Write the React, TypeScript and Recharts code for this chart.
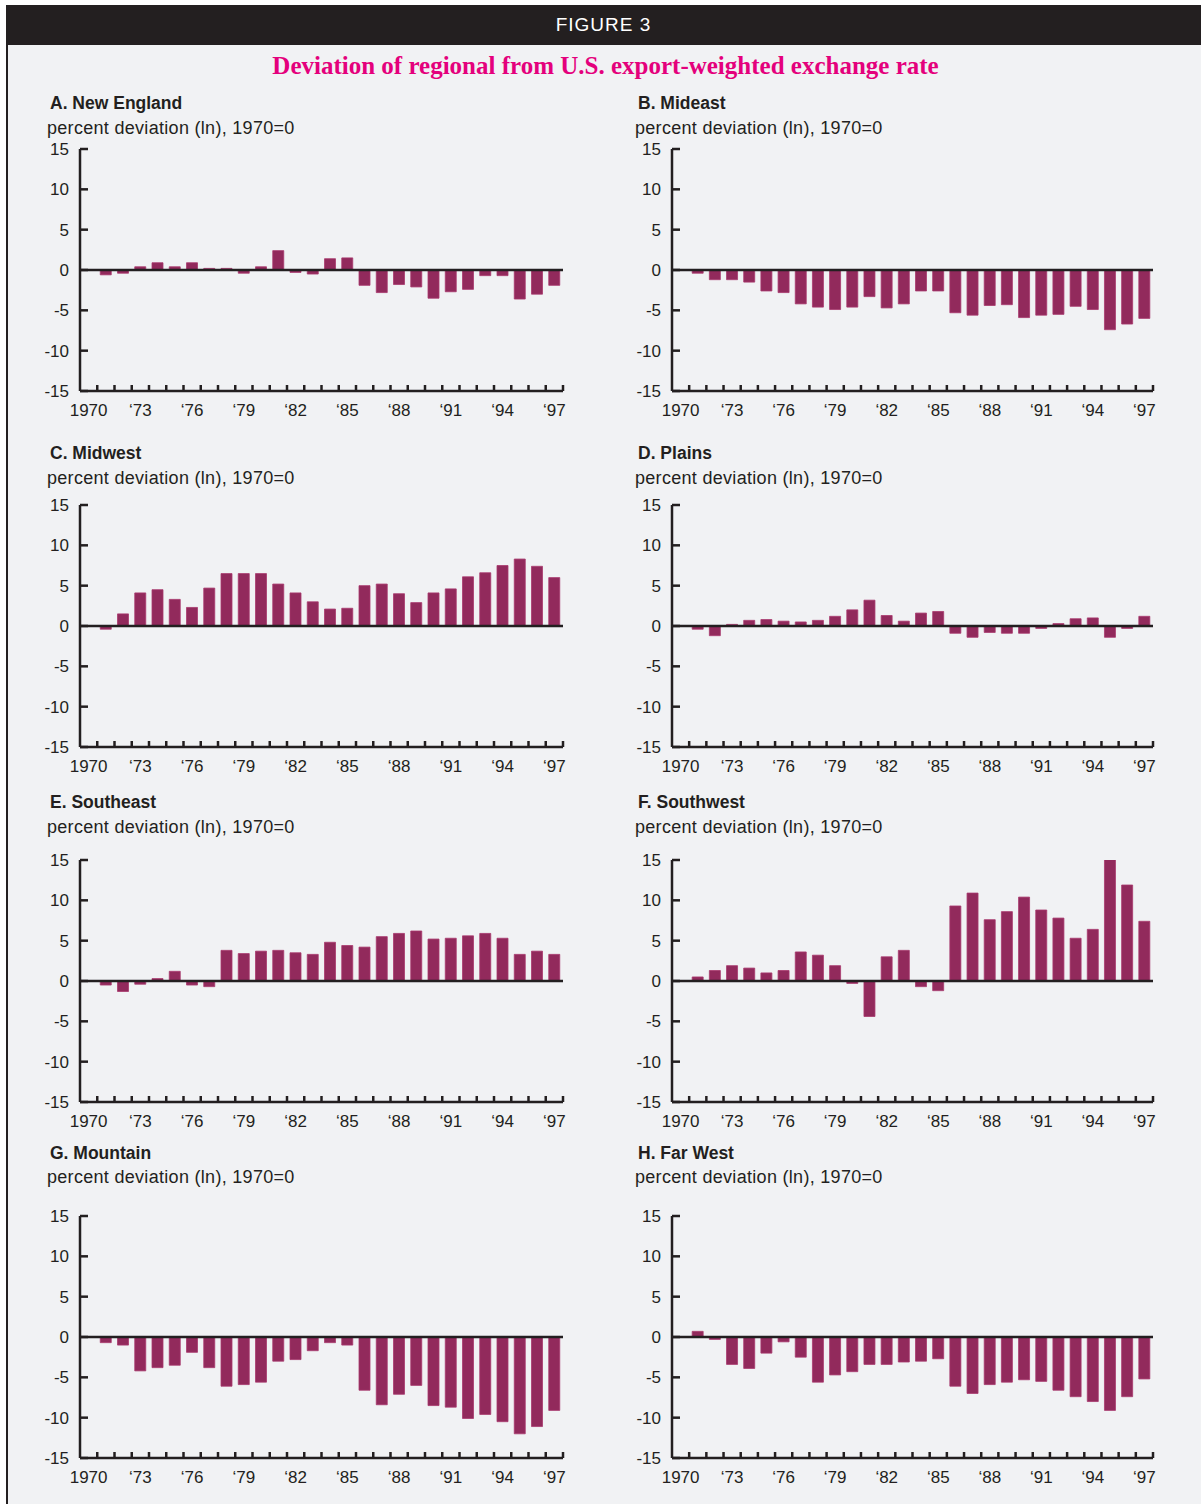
import React from 'react'
import { BarChart, Bar, XAxis, YAxis, ReferenceLine } from 'recharts'

// years 1970..1997, 1970 = 0 by construction
const years = [
  1970, 1971, 1972, 1973, 1974, 1975, 1976, 1977, 1978, 1979,
  1980, 1981, 1982, 1983, 1984, 1985, 1986, 1987, 1988, 1989,
  1990, 1991, 1992, 1993, 1994, 1995, 1996, 1997
]
const labelledYears = [1970, 1973, 1976, 1979, 1982, 1985, 1988, 1991, 1994, 1997]
const yearTickLabels = ['1970', '\u201873', '\u201876', '\u201879', '\u201882', '\u201885', '\u201888', '\u201891', '\u201894', '\u201897']
const valueTicks = [-15, -10, -5, 0, 5, 10, 15]

const newEngland = [0, -0.6, -0.4, 0.4, 0.9, 0.4, 0.9, 0.2, 0.2, -0.4, 0.4, 2.4, -0.3, -0.5, 1.4, 1.5, -1.9, -2.8, -1.8, -2.1, -3.5, -2.7, -2.4, -0.7, -0.7, -3.6, -3.0, -1.9]
const mideast = [0, -0.4, -1.2, -1.2, -1.5, -2.6, -2.8, -4.2, -4.6, -4.9, -4.6, -3.3, -4.7, -4.2, -2.6, -2.6, -5.3, -5.6, -4.4, -4.3, -5.9, -5.6, -5.5, -4.5, -4.9, -7.4, -6.7, -6.0]
const midwest = [0, -0.4, 1.5, 4.1, 4.5, 3.3, 2.3, 4.7, 6.5, 6.5, 6.5, 5.2, 4.1, 3.0, 2.1, 2.2, 5.0, 5.2, 4.0, 2.9, 4.1, 4.6, 6.1, 6.6, 7.5, 8.3, 7.4, 6.0]
const plains = [0, -0.4, -1.2, 0.2, 0.7, 0.8, 0.6, 0.5, 0.7, 1.2, 2.0, 3.2, 1.3, 0.6, 1.6, 1.8, -0.9, -1.4, -0.8, -0.9, -0.9, -0.3, 0.3, 0.9, 1.0, -1.4, -0.3, 1.2]
const southeast = [0, -0.5, -1.3, -0.4, 0.3, 1.2, -0.5, -0.7, 3.8, 3.4, 3.7, 3.8, 3.5, 3.3, 4.8, 4.4, 4.2, 5.5, 5.9, 6.2, 5.2, 5.3, 5.6, 5.9, 5.3, 3.3, 3.7, 3.3]
const southwest = [0, 0.5, 1.3, 1.9, 1.6, 1.0, 1.3, 3.6, 3.2, 1.9, -0.3, -4.4, 3.0, 3.8, -0.7, -1.2, 9.3, 10.9, 7.6, 8.6, 10.4, 8.8, 7.8, 5.3, 6.4, 15.7, 11.9, 7.4]
const mountain = [0, -0.7, -1.0, -4.2, -3.8, -3.5, -1.9, -3.8, -6.1, -5.9, -5.6, -3.0, -2.8, -1.7, -0.7, -1.0, -6.6, -8.4, -7.1, -6.0, -8.5, -8.7, -10.1, -9.6, -10.5, -12.0, -11.1, -9.1]
const farWest = [0, 0.7, -0.3, -3.4, -3.9, -2.0, -0.6, -2.5, -5.6, -4.7, -4.3, -3.4, -3.4, -3.1, -3.0, -2.7, -6.1, -7.0, -5.9, -5.6, -5.3, -5.5, -6.6, -7.4, -8.0, -9.1, -7.4, -5.2]

const regionTitles = [
  'A. New England', 'B. Mideast', 'C. Midwest', 'D. Plains',
  'E. Southeast', 'F. Southwest', 'G. Mountain', 'H. Far West'
]
const regionValues = [newEngland, mideast, midwest, plains, southeast, southwest, mountain, farWest]

const INK = '#231f20'
const BAR = '#922a5c'
const BG = '#f1f2f4'
const FONT = '"Liberation Sans", Arial, sans-serif'

// chart geometry
const AXIS_W = 70
const TOP = 10
const PLOT_H = 242
const X_AXIS_H = 30
const RIGHT = 10

const rows = [
  { titleY: 103, subY: 128, plotTop: 149 },
  { titleY: 453, subY: 478, plotTop: 505 },
  { titleY: 802, subY: 827, plotTop: 860 },
  { titleY: 1153, subY: 1177, plotTop: 1216 }
]
const cols = [
  { titleX: 50, subX: 47, axisX: 80, plotW: 483 },
  { titleX: 638, subX: 635, axisX: 672, plotW: 481 }
]

function RegionChart({ values, plotW }: { values: number[]; plotW: number }) {
  const data = years.map((year, i) => ({ year, value: values[i] }))
  const band = plotW / years.length
  const axisY = TOP + PLOT_H

  const XTick = ({ x, payload }: any) => {
    const idx = labelledYears.indexOf(payload.value)
    return (
      <g>
        <line x1={x + band / 2} x2={x + band / 2} y1={axisY} y2={axisY - 6} stroke={INK} strokeWidth={2.5} />
        {idx >= 0 && (
          <text x={x} y={axisY + 19} dy="0.35em" textAnchor="middle" fill={INK} fontSize={17} fontFamily={FONT}>
            {yearTickLabels[idx]}
          </text>
        )}
      </g>
    )
  }

  const YTick = ({ y, payload }: any) => (
    <g>
      <line x1={AXIS_W} x2={AXIS_W + 8} y1={y} y2={y} stroke={INK} strokeWidth={2.5} />
      <text x={AXIS_W - 11} y={y} dy="0.35em" textAnchor="end" fill={INK} fontSize={17} fontFamily={FONT}>
        {payload.value}
      </text>
    </g>
  )

  return (
    <BarChart
      width={AXIS_W + plotW + RIGHT}
      height={TOP + PLOT_H + X_AXIS_H}
      data={data}
      margin={{ top: TOP, right: RIGHT, bottom: 0, left: 0 }}
      barSize={11}
    >
      <XAxis
        dataKey="year"
        interval={0}
        height={X_AXIS_H}
        tickLine={false}
        axisLine={{ stroke: INK, strokeWidth: 2.5 }}
        tick={<XTick />}
      />
      <YAxis
        width={AXIS_W}
        domain={[-15, 15]}
        ticks={valueTicks}
        allowDataOverflow
        tickLine={false}
        axisLine={{ stroke: INK, strokeWidth: 2.5 }}
        tick={<YTick />}
      />
      <Bar dataKey="value" fill={BAR} stroke="#a8386d" strokeWidth={0.8} isAnimationActive={false} />
      <ReferenceLine y={0} stroke={INK} strokeWidth={2.5} />
    </BarChart>
  )
}

export default function App() {
  return (
    <div style={{ position: 'absolute', left: 0, top: 0, width: 1201, height: 1504, background: '#fff', overflow: 'hidden' }}>
      <div style={{ position: 'absolute', left: 6, top: 5, width: 1195, height: 1499, background: BG, borderLeft: `2px solid ${INK}` }} />
      <div
        style={{
          position: 'absolute', left: 6, top: 5, width: 1195, height: 40, background: INK,
          color: '#fff', fontFamily: FONT, fontSize: 19, letterSpacing: 1, lineHeight: '40px', textAlign: 'center'
        }}
      >
        FIGURE 3
      </div>
      <div
        style={{
          position: 'absolute', left: 0, top: 51, width: 1211, textAlign: 'center', color: '#e4007c',
          fontFamily: '"Liberation Serif", "Times New Roman", serif', fontWeight: 'bold', fontSize: 25, lineHeight: '30px'
        }}
      >
        Deviation of regional from U.S. export-weighted exchange rate
      </div>
      {regionTitles.map((title, i) => {
        const row = rows[Math.floor(i / 2)]
        const col = cols[i % 2]
        return (
          <React.Fragment key={title}>
            <div style={{ position: 'absolute', left: col.titleX, top: row.titleY - 11, fontFamily: FONT, fontWeight: 'bold', fontSize: 17.5, lineHeight: '22px', color: INK }}>
              {title}
            </div>
            <div style={{ position: 'absolute', left: col.subX, top: row.subY - 11, fontFamily: FONT, fontSize: 18, letterSpacing: 0.3, lineHeight: '22px', color: INK }}>
              percent deviation (ln), 1970=0
            </div>
            <div style={{ position: 'absolute', left: col.axisX - AXIS_W, top: row.plotTop - TOP }}>
              <RegionChart values={regionValues[i]} plotW={col.plotW} />
            </div>
          </React.Fragment>
        )
      })}
    </div>
  )
}
